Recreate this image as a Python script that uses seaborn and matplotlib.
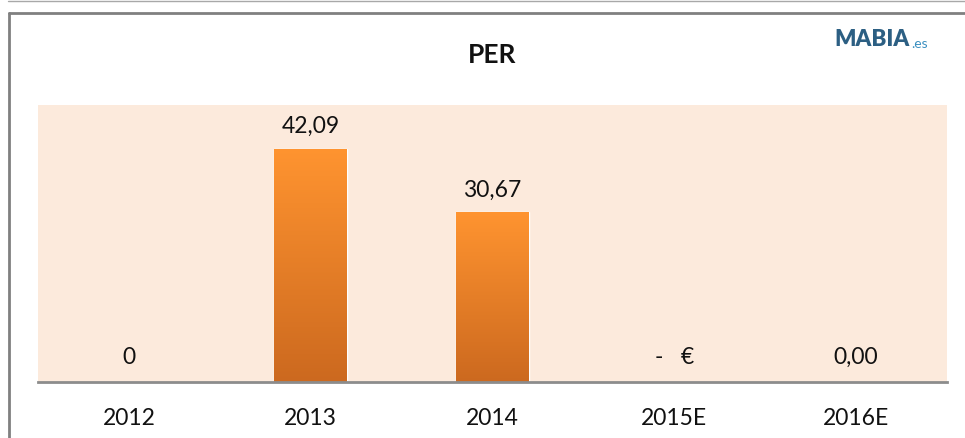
import numpy as np
import pandas as pd
import matplotlib
matplotlib.use("Agg")
import matplotlib.pyplot as plt
from matplotlib.colors import LinearSegmentedColormap
from matplotlib.lines import Line2D
import seaborn as sns

# ── DATA ──────────────────────────────────────────────────────────────────────

years      = ["2012", "2013", "2014", "2015E", "2016E"]
per_values = [0.0, 42.09, 30.67, 0.0, 0.0]
val_labels = ["0", "42,09", "30,67", "-   €", "0,00"]

# ── STYLE ─────────────────────────────────────────────────────────────────────

sns.set_style("white")
plt.rcParams['font.family'] = ['Lato', 'DejaVu Sans']

BG_COLOR   = "#FCEADC"
TOP_ORANGE = "#FF9430"
BOT_ORANGE = "#CC691F"

df = pd.DataFrame({"year": years, "per": per_values})

fig = plt.figure(figsize=(9.65, 4.38), dpi=100)
ax = fig.add_axes([38/965, 1 - 382/438, (947-38)/965, (382-105)/438])
ax.set_facecolor(BG_COLOR)

sns.barplot(data=df, x="year", y="per", color=TOP_ORANGE, width=0.40,
            saturation=1, ax=ax, zorder=2)

ax.set_ylim(0, 50)
ax.set_xlim(-0.5, len(years) - 0.5)

# gradient fill on each bar
cmap = LinearSegmentedColormap.from_list("bar_grad", [BOT_ORANGE, TOP_ORANGE])
grad = np.linspace(0, 1, 256).reshape(-1, 1)
for patch in ax.patches:
    x0, y0 = patch.get_x(), patch.get_y()
    w, h = patch.get_width(), patch.get_height()
    if h <= 0:
        continue
    im = ax.imshow(grad, cmap=cmap, origin="lower", aspect="auto",
                   extent=[x0, x0 + w, y0, y0 + h], zorder=3)
    im.set_clip_path(patch)

# value labels
for i, (v, lab) in enumerate(zip(per_values, val_labels)):
    y = v + 4.0 if v > 0 else 4.5
    ax.text(i, y, lab, ha="center", va="center", fontsize=16.5,
            color="#111111", zorder=4)

# axes cosmetics
for side in ["top", "left", "right"]:
    ax.spines[side].set_visible(False)
ax.spines["bottom"].set_color("#8C8C8C")
ax.spines["bottom"].set_linewidth(2)
ax.spines["bottom"].set_zorder(5)
ax.set_yticks([])
ax.set_xlabel("")
ax.set_ylabel("")
ax.tick_params(axis="x", length=0, pad=19, labelsize=16.5, labelcolor="#111111")

# title and logo
fig.text(492/965, 1 - 55/438, "PER", ha="center", va="center",
         fontsize=19, fontweight="bold", color="#111111")
fig.text(910/965, 1 - 40/438, "MABIA", ha="right", va="center",
         fontsize=16, fontweight="heavy", color="#2C5F83")
fig.text(911/965, 1 - 44/438, ".es", ha="left", va="center",
         fontsize=10, color="#3A8FC0")

# outer frame lines
fig.add_artist(Line2D([8/965, 1], [1 - 1/438, 1 - 1/438],
                      transform=fig.transFigure, color="#A8A8A8", lw=1))
fig.add_artist(Line2D([9/965, 1], [1 - 13/438, 1 - 13/438],
                      transform=fig.transFigure, color="#808080", lw=2))
fig.add_artist(Line2D([9/965, 9/965], [0, 1 - 13/438],
                      transform=fig.transFigure, color="#808080", lw=2))

fig.savefig("out.png", dpi=100)
